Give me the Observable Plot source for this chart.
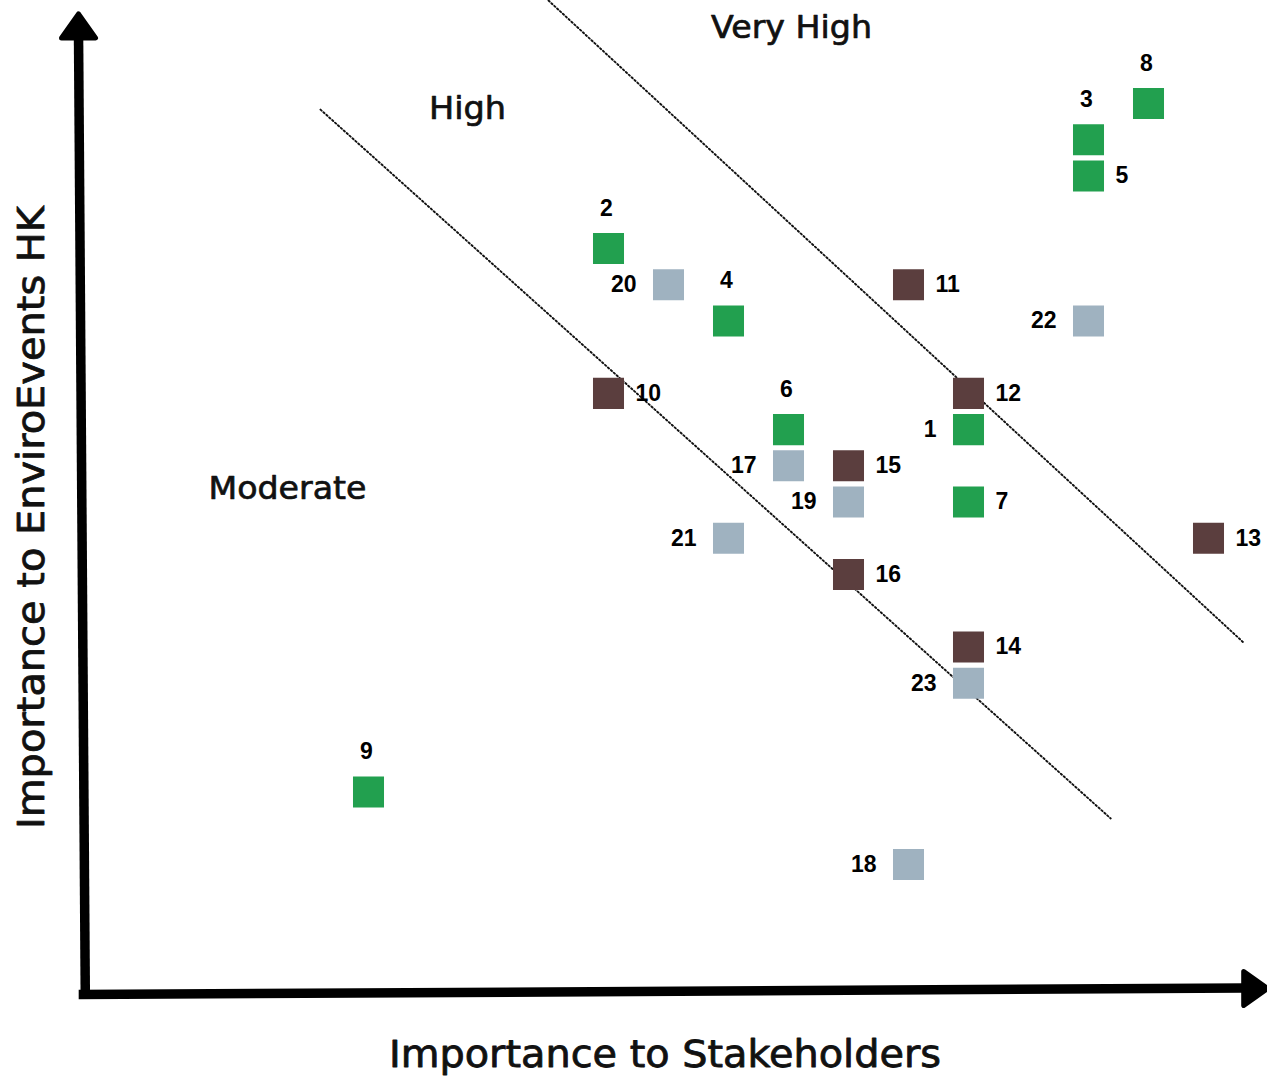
<!DOCTYPE html>
<html>
<head>
<meta charset="utf-8">
<script src="https://cdn.jsdelivr.net/npm/d3@7"></script>
<script src="https://cdn.jsdelivr.net/npm/@observablehq/plot@0.6"></script>
<style>
  html, body { margin: 0; padding: 0; background: #fff; }
  #chart svg { display: block; }
</style>
</head>
<body>
<div id="chart"></div>
<script>
// ---- data ----
const ids        = [1, 2, 3, 4, 5, 6, 7, 8, 9, 10, 11, 12, 13, 14, 15, 16, 17, 18, 19, 20, 21, 22, 23];
const stakeholders = [10, 4, 12, 6, 12, 7, 10, 13, 0, 4, 9, 10, 14, 10, 8, 8, 7, 9, 8, 5, 6, 12, 10];
const enviro       = [12, 17, 20, 15, 19, 12, 10, 21, 2, 13, 16, 13, 9, 6, 11, 8, 11, 0, 10, 16, 9, 15, 5];
const groups = ["g","g","g","g","g","g","g","g","g","b","b","b","b","b","b","b","s","s","s","s","s","s","s"];
const labelPos = ["left","top","top","top","right","top","right","top","top","right","right","right","right","right","right","right","left","left","left","left","left","left","left"];
const groupColors = {g: "#22a04f", b: "#5b3e3e", s: "#9fb2c0"};

// boundary lines between zones (in data units)
const boundaryLow  = [{x: -0.8, y: 20.83}, {x: 12.37, y: 1.27}];
const boundaryHigh = [{x: 3.0, y: 23.84}, {x: 14.6, y: 6.1}];
const zoneLabels = [
  {text: "Very High", x: 7.05, y: 23.09, len: 161},
  {text: "High", x: 1.65, y: 20.86, len: 77},
  {text: "Moderate", x: -1.35, y: 10.38, len: 158}
];
const axisY = [{x: -4.72, y: -3.6}, {x: -4.833, y: 22.9}];
const axisX = [{x: -4.83, y: -3.59}, {x: 14.6, y: -3.41}];
const arrowHeads = [{x: -4.833, y: 23.03, rot: 0}, {x: 14.72, y: -3.42, rot: 90}];
const xTitle = "Importance to Stakeholders";
const yTitle = "Importance to EnviroEvents HK";
const titleLengths = {[xTitle]: 552, [yTitle]: 623};

const items = ids.map((id, i) => ({
  id, x: stakeholders[i], y: enviro[i], group: groups[i], pos: labelPos[i]
}));

// rounded isoceles triangle symbol (pointing up)
const arrowSymbol = {
  draw(ctx) {
    const w = 34, h = 24;
    ctx.moveTo(0, -2 * h / 3);
    ctx.lineTo(w / 2, h / 3);
    ctx.lineTo(-w / 2, h / 3);
    ctx.closePath();
  }
};

const labelFont = "'Liberation Sans', Arial, sans-serif";
const zoneFont = "'DejaVu Sans', sans-serif";
const dotted = {stroke: "#111", strokeWidth: 1.9, strokeDasharray: "1.5,2.4"};

const chart = Plot.plot({
  width: 1267,
  height: 1080,
  marginTop: 0, marginBottom: 0, marginLeft: 0, marginRight: 0,
  x: {domain: [-368 / 60, 899 / 60], axis: null},
  y: {domain: [-216 / 36.24, 864 / 36.24], axis: null},
  marks: [
    Plot.line(boundaryLow, {x: "x", y: "y", ...dotted}),
    Plot.line(boundaryHigh, {x: "x", y: "y", ...dotted}),
    Plot.line(axisY, {x: "x", y: "y", stroke: "#000", strokeWidth: 9.5, strokeLinecap: "butt"}),
    Plot.line(axisX, {x: "x", y: "y", stroke: "#000", strokeWidth: 9.5, strokeLinecap: "butt"}),
    Plot.dot(arrowHeads, {x: "x", y: "y", rotate: "rot", symbol: arrowSymbol, fill: "#000", stroke: "#000", strokeWidth: 5, strokeLinejoin: "round"}),
    Plot.dot(items, {x: "x", y: "y", symbol: "square", r: 17.5, fill: d => groupColors[d.group], stroke: "none"}),
    Plot.text(items.filter(d => d.pos === "top"), {x: "x", y: "y", text: "id", dy: -40, dx: -2, fontSize: 23, fontWeight: "bold", fontFamily: labelFont, fill: "#000"}),
    Plot.text(items.filter(d => d.pos === "right"), {x: "x", y: "y", text: "id", dx: 27, textAnchor: "start", fontSize: 23, fontWeight: "bold", fontFamily: labelFont, fill: "#000"}),
    Plot.text(items.filter(d => d.pos === "left"), {x: "x", y: "y", text: "id", dx: -32, textAnchor: "end", fontSize: 23, fontWeight: "bold", fontFamily: labelFont, fill: "#000"}),
    Plot.text(zoneLabels, {x: "x", y: "y", text: "text", fontSize: 32, fontFamily: zoneFont, fill: "#111", stroke: "#111", strokeWidth: 0.7, className: "zone"}),
    Plot.text([xTitle], {frameAnchor: "bottom", dy: -25, dx: 31, fontSize: 37, fontFamily: zoneFont, fill: "#111", stroke: "#111", strokeWidth: 0.8, lineAnchor: "middle", textAnchor: "middle", className: "title"}),
    Plot.text([yTitle], {frameAnchor: "left", dx: 32, dy: -23, rotate: -90, fontSize: 37, fontFamily: zoneFont, fill: "#111", stroke: "#111", strokeWidth: 0.8, lineAnchor: "middle", textAnchor: "middle", className: "title"})
  ]
});
// stretch the free-font texts to the widths measured in the reference
d3.select(chart).selectAll("text").each(function () {
  const t = this.textContent;
  const z = zoneLabels.find(d => d.text === t);
  const len = z ? z.len : titleLengths[t];
  if (len) d3.select(this).attr("textLength", len).attr("lengthAdjust", "spacingAndGlyphs");
});
document.getElementById("chart").appendChild(chart);
</script>
</body>
</html>
